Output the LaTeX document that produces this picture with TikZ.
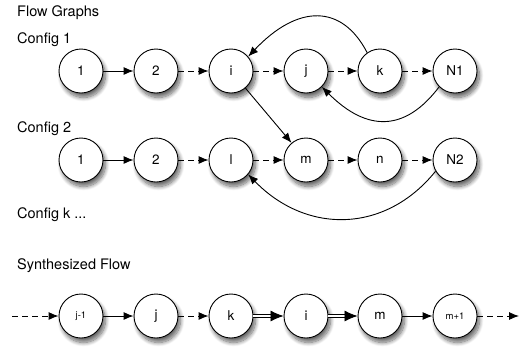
\documentclass[tikz,border=0pt]{standalone}
\usepackage{fontspec}
\setmainfont{TeX Gyre Heros}
\usetikzlibrary{arrows.meta,shadows.blur}
\begin{document}
\begin{tikzpicture}[x=1pt,y=-1pt,
  vnode/.style={circle,draw=black,line width=0.9pt,fill=white,minimum size=44pt,inner sep=0pt,
    font=\fontsize{13.5}{15}\selectfont,
    blur shadow={shadow xshift=2.5pt,shadow yshift=-4.5pt,shadow blur steps=10,shadow blur radius=4pt,shadow opacity=60}},
  small/.style={font=\fontsize{9.5}{11}\selectfont},
  head/.style={anchor=west,inner sep=0pt,font=\fontsize{14.5}{16}\selectfont},
  arr/.style={line width=0.9pt,-{Latex[length=10pt,width=8pt]}},
  darr/.style={arr,dash pattern=on 6pt off 4pt},
  dbl/.style={double=white,double distance=2pt,line width=0.8pt,-{Latex[length=13pt,width=11pt]}},
]
\useasboundingbox (0,0) rectangle (520,349);
\node[head] (t0) at (17,13) {Flow Graphs};
\node[head] (t1) at (17,40) {Config 1};
\node[head] (t2) at (17,129) {Config 2};
\node[head] (t3) at (17,215) {Config k ...};
\node[head] (t4) at (17,266) {Synthesized Flow};
% row 1
\node[vnode] (a1) at (81,71) {1};
\node[vnode] (a2) at (156,71) {2};
\node[vnode] (ai) at (231,71) {i};
\node[vnode] (aj) at (306,71) {j};
\node[vnode] (ak) at (380,71) {k};
\node[vnode] (aN) at (455,71) {N1};
% row 2
\node[vnode] (b1) at (81,160) {1};
\node[vnode] (b2) at (156,160) {2};
\node[vnode] (bl) at (231,160) {l};
\node[vnode] (bm) at (306,160) {m};
\node[vnode] (bn) at (380,160) {n};
\node[vnode] (bN) at (455,160) {N2};
% row 3
\coordinate (cs) at (12,316);
\coordinate (ce) at (519,316);
\node[vnode,small] (c1) at (81,316) {j-1};
\node[vnode] (c2) at (156,316) {j};
\node[vnode] (c3) at (231,316) {k};
\node[vnode] (c4) at (306,316) {i};
\node[vnode] (c5) at (380,316) {m};
\node[vnode,small] (c6) at (455,316) {m+1};
% edges row 1
\draw[arr] (a1) -- (a2);
\draw[darr] (a2) -- (ai);
\draw[darr] (ai) -- (aj);
\draw[darr] (aj) -- (ak);
\draw[darr] (ak) -- (aN);
\draw[arr] (ak.125) .. controls (342,4) and (298,4) .. (ai.40);
\draw[arr] (aN.225) .. controls (405,132) and (367,132) .. (aj.-45);
\draw[arr] (ai) -- (bm);
% edges row 2
\draw[arr] (b1) -- (b2);
\draw[darr] (b2) -- (bl);
\draw[darr] (bl) -- (bm);
\draw[darr] (bm) -- (bn);
\draw[darr] (bn) -- (bN);
\draw[arr] (bN.210) .. controls (385,234) and (306,234) .. (bl.-40);
% row 3
\draw[darr] (cs) -- (c1);
\draw[arr] (c1) -- (c2);
\draw[darr] (c2) -- (c3);
\draw[dbl] (c3) -- (c4);
\draw[dbl] (c4) -- (c5);
\draw[arr] (c5) -- (c6);
\draw[darr] (c6) -- (ce);
\end{tikzpicture}
\end{document}
